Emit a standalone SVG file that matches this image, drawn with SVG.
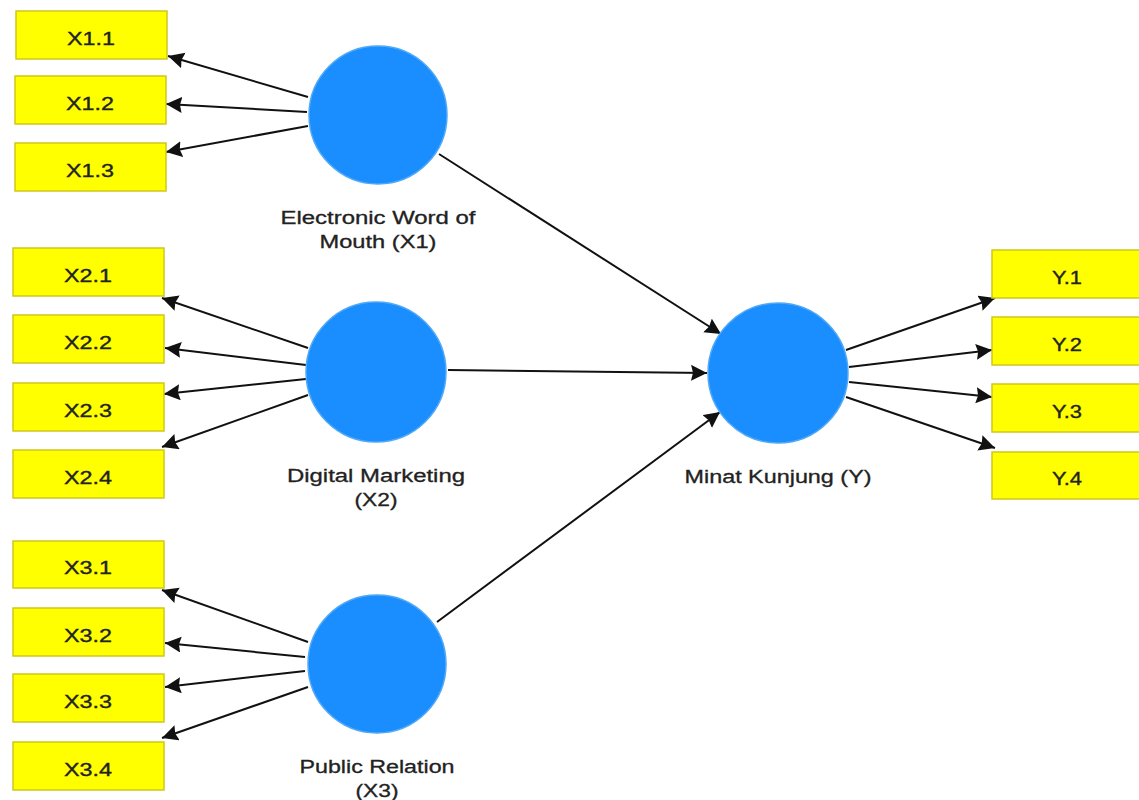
<svg xmlns="http://www.w3.org/2000/svg" width="1139" height="800" viewBox="0 0 1139 800">
<defs>
<style>
.box{fill:#FFFF00;stroke:#CFC81A;stroke-width:1.5}
.bt{font-family:"Liberation Sans",Arial,sans-serif;font-size:18px;fill:#222;stroke:#222;stroke-width:0.35;text-anchor:middle}
.lv{fill:#1A8DFF;stroke:#4FA9F5;stroke-width:1.5}
.lt{font-family:"Liberation Sans",Arial,sans-serif;font-size:18px;fill:#222;stroke:#222;stroke-width:0.3;text-anchor:middle}
.c{stroke:#111;stroke-width:2;fill:none;marker-end:url(#ah)}
</style>
<marker id="ah" markerUnits="userSpaceOnUse" markerWidth="18" markerHeight="18" refX="16" refY="8" orient="auto">
<path d="M0,0 L16,8 L0,16 L2,8 z" fill="#111"/>
</marker>
</defs>
<rect width="1139" height="800" fill="#fff"/>
<g id="connectors">
<line class="c" x1="308" y1="97" x2="168" y2="56"/>
<line class="c" x1="307" y1="112" x2="166" y2="104"/>
<line class="c" x1="308" y1="126" x2="166" y2="152"/>
<line class="c" x1="308" y1="348" x2="162" y2="298"/>
<line class="c" x1="306" y1="365" x2="165" y2="348"/>
<line class="c" x1="306" y1="379" x2="164" y2="394"/>
<line class="c" x1="308" y1="395" x2="162" y2="447"/>
<line class="c" x1="308" y1="642" x2="162" y2="590"/>
<line class="c" x1="305" y1="657" x2="165" y2="643"/>
<line class="c" x1="305" y1="671" x2="165" y2="687"/>
<line class="c" x1="308" y1="687" x2="162" y2="738"/>
<line class="c" x1="846" y1="350" x2="995" y2="298"/>
<line class="c" x1="849" y1="367" x2="992" y2="350"/>
<line class="c" x1="849" y1="382" x2="992" y2="397"/>
<line class="c" x1="846" y1="397" x2="995" y2="448"/>
<line class="c" x1="439" y1="154" x2="721" y2="334"/>
<line class="c" x1="448" y1="370" x2="707" y2="373"/>
<line class="c" x1="437" y1="622" x2="720" y2="412"/>
</g>
<g id="X1_1"><rect class="box" x="16" y="11" width="151" height="48"/><text class="bt" x="91" y="45" textLength="48" lengthAdjust="spacingAndGlyphs">X1.1</text></g>
<g id="X1_2"><rect class="box" x="15" y="76" width="151" height="48"/><text class="bt" x="90" y="110" textLength="48" lengthAdjust="spacingAndGlyphs">X1.2</text></g>
<g id="X1_3"><rect class="box" x="15" y="143" width="151" height="48"/><text class="bt" x="90" y="177" textLength="48" lengthAdjust="spacingAndGlyphs">X1.3</text></g>
<g id="X2_1"><rect class="box" x="13" y="248" width="151" height="48"/><text class="bt" x="88" y="282" textLength="48" lengthAdjust="spacingAndGlyphs">X2.1</text></g>
<g id="X2_2"><rect class="box" x="13" y="315" width="151" height="48"/><text class="bt" x="88" y="349" textLength="48" lengthAdjust="spacingAndGlyphs">X2.2</text></g>
<g id="X2_3"><rect class="box" x="13" y="383" width="151" height="48"/><text class="bt" x="88" y="417" textLength="48" lengthAdjust="spacingAndGlyphs">X2.3</text></g>
<g id="X2_4"><rect class="box" x="13" y="450" width="151" height="48"/><text class="bt" x="88" y="484" textLength="48" lengthAdjust="spacingAndGlyphs">X2.4</text></g>
<g id="X3_1"><rect class="box" x="13" y="541" width="151" height="47"/><text class="bt" x="88" y="574" textLength="48" lengthAdjust="spacingAndGlyphs">X3.1</text></g>
<g id="X3_2"><rect class="box" x="13" y="608" width="151" height="48"/><text class="bt" x="88" y="642" textLength="48" lengthAdjust="spacingAndGlyphs">X3.2</text></g>
<g id="X3_3"><rect class="box" x="13" y="674" width="151" height="48"/><text class="bt" x="88" y="708" textLength="48" lengthAdjust="spacingAndGlyphs">X3.3</text></g>
<g id="X3_4"><rect class="box" x="13" y="742" width="151" height="48"/><text class="bt" x="88" y="776" textLength="48" lengthAdjust="spacingAndGlyphs">X3.4</text></g>
<g id="Y_1"><rect class="box" x="992" y="250" width="155" height="48"/><text class="bt" x="1067" y="284" textLength="30" lengthAdjust="spacingAndGlyphs">Y.1</text></g>
<g id="Y_2"><rect class="box" x="992" y="317" width="155" height="48"/><text class="bt" x="1067" y="351" textLength="30" lengthAdjust="spacingAndGlyphs">Y.2</text></g>
<g id="Y_3"><rect class="box" x="992" y="384" width="155" height="48"/><text class="bt" x="1067" y="418" textLength="30" lengthAdjust="spacingAndGlyphs">Y.3</text></g>
<g id="Y_4"><rect class="box" x="992" y="452" width="155" height="47"/><text class="bt" x="1067" y="485" textLength="30" lengthAdjust="spacingAndGlyphs">Y.4</text></g>
<g id="X1"><circle class="lv" cx="378" cy="115" r="69"/><text class="lt" x="378" y="224" textLength="195" lengthAdjust="spacingAndGlyphs">Electronic Word of</text><text class="lt" x="378" y="248" textLength="117" lengthAdjust="spacingAndGlyphs">Mouth (X1)</text></g>
<g id="X2"><circle class="lv" cx="376" cy="372" r="70"/><text class="lt" x="376" y="482" textLength="178" lengthAdjust="spacingAndGlyphs">Digital Marketing</text><text class="lt" x="376" y="506" textLength="43" lengthAdjust="spacingAndGlyphs">(X2)</text></g>
<g id="X3"><circle class="lv" cx="377" cy="664" r="69"/><text class="lt" x="377" y="773" textLength="155" lengthAdjust="spacingAndGlyphs">Public Relation</text><text class="lt" x="377" y="797" textLength="43" lengthAdjust="spacingAndGlyphs">(X3)</text></g>
<g id="Y"><circle class="lv" cx="778" cy="373" r="70"/><text class="lt" x="778" y="483" textLength="187" lengthAdjust="spacingAndGlyphs">Minat Kunjung (Y)</text></g>
</svg>
